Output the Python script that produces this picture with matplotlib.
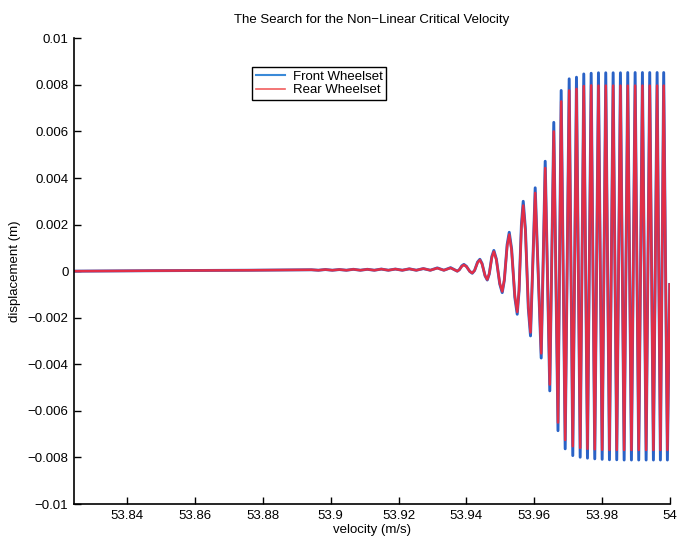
import matplotlib
matplotlib.use('Agg')
import matplotlib.pyplot as plt

plt.rcParams['font.family'] = ['Liberation Sans', 'DejaVu Sans']
plt.rcParams['font.size'] = 9.5

### Lateral displacement of both wheelsets against vehicle velocity
# velocity in m/s, displacement in m
velocity = [
    53.8243, 53.84695, 53.87641,
    53.89429, 53.89635, 53.89841, 53.90047, 53.90253, 53.90460, 53.90666,
    53.90872, 53.91078, 53.91284, 53.91490, 53.91697, 53.91903, 53.92109,
    53.92315, 53.92521, 53.92728, 53.92934, 53.93140, 53.93334, 53.93532,
    53.93729, 53.93788, 53.93864,
    53.93924, 53.93997, 53.94097,
    53.94171, 53.94239, 53.94327,
    53.94395, 53.94459, 53.94548,
    53.94613, 53.94672, 53.94748,
    53.94807, 53.94881, 53.94981,
    53.95054, 53.95116, 53.95199,
    53.95261, 53.95331, 53.95426,
    53.95496, 53.95550, 53.95620,
    53.95673, 53.95738, 53.95823,
    53.95888, 53.96026, 53.96203, 53.96321, 53.96456, 53.96574, 53.96698,
    53.96792, 53.96910, 53.97028, 53.97134, 53.97243, 53.97352, 53.97458,
    53.97567, 53.97676, 53.97782, 53.97891, 53.98000, 53.98106, 53.98215,
    53.98324, 53.98430, 53.98539, 53.98648, 53.98754, 53.98863, 53.98972,
    53.99078, 53.99187, 53.99296, 53.99402, 53.99511, 53.99620, 53.99717,
    53.99814, 53.99923, 53.99991,
]

front = [
    0.0, 0.00002, 0.00004,
    0.00006, 0.00004, 0.00007, 0.00004, 0.00007, 0.00004, 0.00008,
    0.00004, 0.00008, 0.00004, 0.00009, 0.00004, 0.00009, 0.00004,
    0.00010, 0.00004, 0.00011, 0.00004, 0.00014, 0.00004, 0.00015,
    0.00000, 0.00006, 0.00023,
    0.00029, 0.00021, -0.00001,
    -0.00009, 0.00003, 0.00039,
    0.00051, 0.00033, -0.00020,
    -0.00038, -0.00012, 0.00063,
    0.00089, 0.00052, -0.00055,
    -0.00092, -0.00039, 0.00114,
    0.00167, 0.00095, -0.00113,
    -0.00185, -0.00085, 0.00200,
    0.00300, 0.00181, -0.00159,
    -0.00278, 0.00358, -0.00373, 0.00472, -0.00514, 0.00639, -0.00685,
    0.00776, -0.00763, 0.00826, -0.00792, 0.00833, -0.00799, 0.00847,
    -0.00803, 0.00850, -0.00806, 0.00852, -0.00808, 0.00852, -0.00810,
    0.00852, -0.00810, 0.00852, -0.00811, 0.00853, -0.00811, 0.00853,
    -0.00811, 0.00853, -0.00811, 0.00853, -0.00811, 0.00853, -0.00811,
    0.00853, -0.00811, -0.00057,
]

rear = [
    0.0, 0.00002, 0.00004,
    0.00006, 0.00004, 0.00007, 0.00004, 0.00007, 0.00004, 0.00008,
    0.00004, 0.00008, 0.00004, 0.00009, 0.00004, 0.00009, 0.00004,
    0.00010, 0.00004, 0.00011, 0.00004, 0.00013, 0.00004, 0.00014,
    0.00000, 0.00006, 0.00021,
    0.00027, 0.00020, -0.00001,
    -0.00008, 0.00003, 0.00037,
    0.00048, 0.00031, -0.00019,
    -0.00036, -0.00011, 0.00059,
    0.00084, 0.00049, -0.00052,
    -0.00087, -0.00037, 0.00107,
    0.00157, 0.00089, -0.00106,
    -0.00175, -0.00080, 0.00188,
    0.00282, 0.00170, -0.00150,
    -0.00263, 0.00336, -0.00353, 0.00443, -0.00487, 0.00600, -0.00650,
    0.00729, -0.00725, 0.00776, -0.00752, 0.00783, -0.00759, 0.00795,
    -0.00763, 0.00798, -0.00765, 0.00797, -0.00767, 0.00797, -0.00768,
    0.00797, -0.00768, 0.00797, -0.00768, 0.00797, -0.00768, 0.00797,
    -0.00768, 0.00797, -0.00768, 0.00797, -0.00768, 0.00797, -0.00768,
    0.00797, -0.00768, -0.00057,
]

xticks = [53.84, 53.86, 53.88, 53.9, 53.92, 53.94, 53.96, 53.98, 54]
xtick_labels = ['53.84', '53.86', '53.88', '53.9', '53.92', '53.94', '53.96', '53.98', '54']
yticks = [-0.01, -0.008, -0.006, -0.004, -0.002, 0, 0.002, 0.004, 0.006, 0.008, 0.01]
ytick_labels = ['\u22120.01', '\u22120.008', '\u22120.006', '\u22120.004', '\u22120.002',
                '0', '0.002', '0.004', '0.006', '0.008', '0.01']

fig = plt.figure(figsize=(6.8, 5.39), dpi=100)
ax = fig.add_axes([0.1088, 0.0649, 0.8765, 0.864])

ax.plot(velocity, front, color='#2a62c6', lw=2.1, label='Front Wheelset')
ax.plot(velocity, rear, color='#f22a3c', lw=1.8, alpha=0.92, label='Rear Wheelset')

ax.set_xlim(53.8243, 54)
ax.set_ylim(-0.01, 0.01)
ax.set_xticks(xticks)
ax.set_xticklabels(xtick_labels)
ax.set_yticks(yticks)
ax.set_yticklabels(ytick_labels)
ax.tick_params(direction='in', length=5, width=1)
ax.tick_params(axis='x', pad=4.5)
ax.tick_params(axis='y', pad=4)

ax.spines['top'].set_visible(False)
ax.spines['right'].set_visible(False)
ax.spines['left'].set_linewidth(1.2)
ax.spines['bottom'].set_linewidth(1.2)

ax.set_title('The Search for the Non\u2212Linear Critical Velocity', fontsize=9.5, pad=11)
ax.set_xlabel('velocity (m/s)', labelpad=1)
ax.set_ylabel('displacement (m)', labelpad=5)

leg = ax.legend(loc='upper left', bbox_to_anchor=(0.298, 0.939), fancybox=False,
                framealpha=1, edgecolor='black', borderpad=0.3, labelspacing=0.1,
                handlelength=2.2, handletextpad=0.6, borderaxespad=0)
leg.get_frame().set_linewidth(1.0)
leg.get_lines()[0].set_color('#3a8ad8')
leg.get_lines()[0].set_linewidth(1.5)
leg.get_lines()[1].set_color('#f05050')
leg.get_lines()[1].set_linewidth(1.2)

fig.savefig('out.png', dpi=100)
